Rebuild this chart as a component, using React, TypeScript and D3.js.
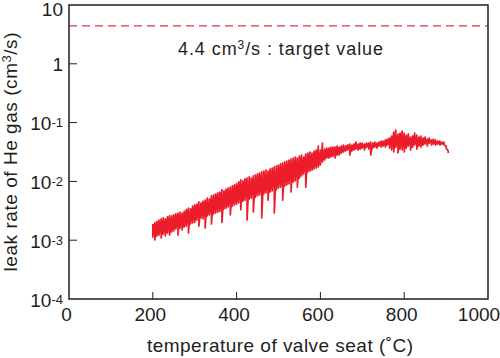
import React from 'react';
import * as d3 from 'd3';

// temperature of valve seat (°C), 5 °C bins
const temperatures = [
  200, 205, 210, 215, 220, 225, 230, 235, 240, 245,
  250, 255, 260, 265, 270, 275, 280, 285, 290, 295,
  300, 305, 310, 315, 320, 325, 330, 335, 340, 345,
  350, 355, 360, 365, 370, 375, 380, 385, 390, 395,
  400, 405, 410, 415, 420, 425, 430, 435, 440, 445,
  450, 455, 460, 465, 470, 475, 480, 485, 490, 495,
  500, 505, 510, 515, 520, 525, 530, 535, 540, 545,
  550, 555, 560, 565, 570, 575, 580, 585, 590, 595,
  600, 605, 610, 615, 620, 625, 630, 635, 640, 645,
  650, 655, 660, 665, 670, 675, 680, 685, 690, 695,
  700, 705, 710, 715, 720, 725, 730, 735, 740, 745,
  750, 755, 760, 765, 770, 775, 780, 785, 790, 795,
  800, 805, 810, 815, 820, 825, 830, 835, 840, 845,
  850, 855, 860, 865, 870, 875, 880, 885, 890, 895,
  900, 905,
];

// upper excursion of leak rate in each bin (cm3/s)
const leakHigh = [
  0.00189, 0.0020, 0.0021, 0.0022, 0.0023, 0.0024, 0.0023, 0.0025, 0.0026, 0.0026,
  0.0027, 0.0028, 0.0029, 0.0030, 0.0029, 0.0031, 0.0033, 0.0035, 0.0034, 0.0038,
  0.0040, 0.0041, 0.0045, 0.0043, 0.0046, 0.0048, 0.0052, 0.0050, 0.0057, 0.0059,
  0.0061, 0.0064, 0.0066, 0.0072, 0.0069, 0.0074, 0.0077, 0.0080, 0.0084, 0.0087,
  0.0091, 0.0098, 0.0106, 0.0102, 0.0110, 0.0114, 0.0119, 0.0114, 0.0124, 0.0129,
  0.0134, 0.0139, 0.0145, 0.0150, 0.0156, 0.0150, 0.0163, 0.0169, 0.0176, 0.0183,
  0.0190, 0.0198, 0.0206, 0.0214, 0.0222, 0.0231, 0.0240, 0.0250, 0.0260, 0.0250,
  0.0270, 0.0281, 0.0260, 0.0292, 0.0304, 0.0316, 0.0304, 0.0329, 0.0342, 0.0400,
  0.0342, 0.0449, 0.0355, 0.0369, 0.0369, 0.0384, 0.0384, 0.0384, 0.0400, 0.0384,
  0.0400, 0.0416, 0.0400, 0.0416, 0.0432, 0.0416, 0.0432, 0.0467, 0.0432, 0.0449,
  0.0449, 0.0432, 0.0449, 0.0449, 0.0467, 0.0449, 0.0467, 0.0449, 0.0467, 0.0486,
  0.0486, 0.0506, 0.0526, 0.0547, 0.0591, 0.0691, 0.0748, 0.0639, 0.0665, 0.0719,
  0.0665, 0.0615, 0.0639, 0.0569, 0.0591, 0.0665, 0.0615, 0.0569, 0.0591, 0.0547,
  0.0569, 0.0526, 0.0547, 0.0506, 0.0526, 0.0506, 0.0486, 0.0486, 0.0467, 0.0467,
  0.0400, 0.0329,
];

// lower excursion of leak rate in each bin (cm3/s)
const leakLow = [
  0.00113, 0.00101, 0.00118, 0.00122, 0.00109, 0.00127, 0.00118, 0.00133, 0.00122, 0.00138,
  0.00144, 0.00155, 0.00122, 0.00161, 0.00149, 0.00168, 0.00174, 0.00133, 0.00189, 0.00196,
  0.0020, 0.0022, 0.00174, 0.0024, 0.0023, 0.00161, 0.0026, 0.0027, 0.00189, 0.0028,
  0.0029, 0.0030, 0.0031, 0.0020, 0.0034, 0.0035, 0.0037, 0.0027, 0.0038, 0.0040,
  0.0041, 0.0043, 0.0033, 0.0046, 0.0048, 0.0022, 0.0050, 0.0052, 0.0030, 0.0054,
  0.0057, 0.0059, 0.0024, 0.0061, 0.0064, 0.0048, 0.0066, 0.0069, 0.0029, 0.0072,
  0.0077, 0.0080, 0.0048, 0.0084, 0.0087, 0.0091, 0.0066, 0.0098, 0.0102, 0.0080,
  0.0114, 0.0124, 0.0134, 0.0080, 0.0145, 0.0150, 0.0156, 0.0163, 0.0169, 0.0176,
  0.0190, 0.0214, 0.0231, 0.0250, 0.0250, 0.0260, 0.0270, 0.0250, 0.0281, 0.0281,
  0.0304, 0.0316, 0.0329, 0.0342, 0.0281, 0.0329, 0.0342, 0.0355, 0.0342, 0.0355,
  0.0369, 0.0342, 0.0384, 0.0355, 0.0281, 0.0369, 0.0384, 0.0369, 0.0400, 0.0384,
  0.0400, 0.0384, 0.0416, 0.0369, 0.0342, 0.0316, 0.0384, 0.0304, 0.0355, 0.0342,
  0.0316, 0.0369, 0.0400, 0.0342, 0.0384, 0.0416, 0.0355, 0.0400, 0.0384, 0.0416,
  0.0432, 0.0400, 0.0449, 0.0416, 0.0432, 0.0416, 0.0432, 0.0416, 0.0432, 0.0416,
  0.0369, 0.0304,
];

const xTicks = [0, 200, 400, 600, 800, 1000];
const yTicks = [1e-4, 1e-3, 1e-2, 1e-1, 1, 10];
const yTickBase = ['10', '10', '10', '10', '1', '10'];
const yTickExp = ['-4', '-3', '-2', '-1', '', ''];
const targetValue = 4.4;

const W = 500;
const H = 358;
const FONT = "'Liberation Sans', Arial, Helvetica, sans-serif";
const INK = '#1e1e1e';

export default function App() {
  const x = d3.scaleLinear().domain([0, 1000]).range([69, 488]);
  const y = d3.scaleLog().domain([1e-4, 10]).range([299, 5]);
  const [x0, x1] = x.range();
  const [y0, y1] = y.range();

  const pts: [number, number][] = [];
  temperatures.forEach((t, i) => {
    pts.push([t, leakHigh[i]]);
    pts.push([t, leakLow[i]]);
  });
  const line = d3
    .line<[number, number]>()
    .x((d) => x(d[0]))
    .y((d) => y(d[1]));
  const dataPath = line(pts) || '';

  const ty = y(targetValue);
  const cy = (y0 + y1) / 2;

  return (
    <svg
      width={W}
      height={H}
      style={{ position: 'absolute', left: 0, top: 0, background: '#fff' }}
      fontFamily={FONT}
    >
      <rect x={0} y={0} width={W} height={H} fill="#fff" />
      <path d={dataPath} fill="none" stroke="#ec1c2a" strokeWidth={1.7} strokeLinejoin="round" />
      <line
        x1={x0}
        x2={x1}
        y1={ty}
        y2={ty}
        stroke="#e2323c"
        strokeWidth={1.3}
        strokeDasharray="8,5"
      />
      <text x={178} y={54.5} fontSize={18} fill={INK} textLength={205} lengthAdjust="spacing">
        4.4 cm<tspan dy={-6} fontSize={12}>3</tspan>
        <tspan dy={6}>/s : target value</tspan>
      </text>

      {/* ticks */}
      {xTicks.slice(1, -1).map((t) => (
        <line key={'xt' + t} x1={x(t)} x2={x(t)} y1={y0} y2={y0 - 7} stroke={INK} strokeWidth={1} />
      ))}
      {yTicks.slice(1, -1).map((t) => (
        <line key={'yt' + t} x1={x0} x2={x0 + 8} y1={y(t)} y2={y(t)} stroke={INK} strokeWidth={1} />
      ))}

      <rect
        x={x0}
        y={y1}
        width={x1 - x0}
        height={y0 - y1}
        fill="none"
        stroke={INK}
        strokeWidth={1.5}
      />

      {xTicks.map((t) => (
        <text
          key={'xl' + t}
          x={Math.min(x(t) - 2.5, W - 21)}
          y={321}
          fontSize={19}
          fill={INK}
          textAnchor="middle"
        >
          {t}
        </text>
      ))}
      {yTicks.map((t, i) => (
        <text
          key={'yl' + i}
          x={63}
          y={Math.max(y(t) + 7.5, 15.5)}
          fontSize={19}
          fill={INK}
          textAnchor="end"
        >
          {yTickBase[i]}
          {yTickExp[i] !== '' && (
            <tspan dy={-3} fontSize={13}>
              {yTickExp[i]}
            </tspan>
          )}
        </text>
      ))}

      <text x={147} y={352} fontSize={19} fill={INK} textLength={266} lengthAdjust="spacing">
        temperature of valve seat (˚C)
      </text>
      <text
        transform={`translate(16.5,${cy}) rotate(-90)`}
        fontSize={19}
        fill={INK}
        textAnchor="middle"
        textLength={239}
        lengthAdjust="spacing"
      >
        leak rate of He gas (cm<tspan dy={-6} fontSize={13}>3</tspan>
        <tspan dy={6}>/s)</tspan>
      </text>
    </svg>
  );
}
